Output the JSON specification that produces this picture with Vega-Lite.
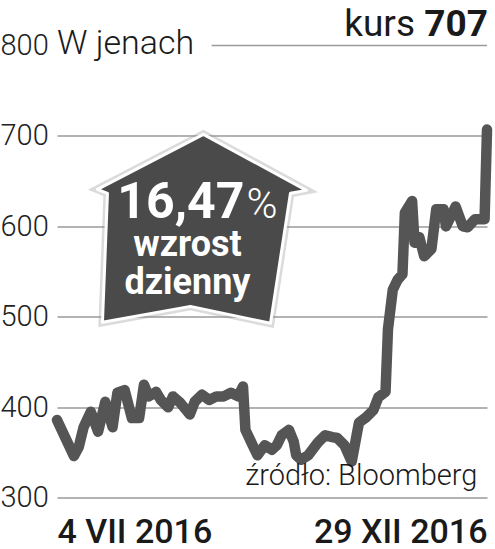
{
  "$schema": "https://vega.github.io/schema/vega-lite/v6.json",
  "width": 430,
  "height": 452.2,
  "autosize": "none",
  "padding": {"left": 57, "top": 45.5, "right": 8, "bottom": 51.3},
  "background": "white",
  "config": {"view": {"stroke": null}, "font": "Roboto"},
  "layer": [
    {
      "data": {"values": [
        {"date": "2016-07-04", "price": 386},
        {"date": "2016-07-11", "price": 346},
        {"date": "2016-07-13", "price": 356},
        {"date": "2016-07-15", "price": 378},
        {"date": "2016-07-18", "price": 395},
        {"date": "2016-07-21", "price": 373},
        {"date": "2016-07-24", "price": 406},
        {"date": "2016-07-27", "price": 378},
        {"date": "2016-07-29", "price": 416},
        {"date": "2016-08-01", "price": 419},
        {"date": "2016-08-04", "price": 388},
        {"date": "2016-08-07", "price": 388},
        {"date": "2016-08-09", "price": 425},
        {"date": "2016-08-11", "price": 412},
        {"date": "2016-08-14", "price": 417},
        {"date": "2016-08-16", "price": 408},
        {"date": "2016-08-19", "price": 400},
        {"date": "2016-08-21", "price": 412},
        {"date": "2016-08-24", "price": 405},
        {"date": "2016-08-28", "price": 392},
        {"date": "2016-08-30", "price": 406},
        {"date": "2016-09-02", "price": 414},
        {"date": "2016-09-05", "price": 408},
        {"date": "2016-09-08", "price": 412},
        {"date": "2016-09-11", "price": 412},
        {"date": "2016-09-14", "price": 416},
        {"date": "2016-09-17", "price": 412},
        {"date": "2016-09-19", "price": 423},
        {"date": "2016-09-20", "price": 375},
        {"date": "2016-09-23", "price": 358},
        {"date": "2016-09-25", "price": 347},
        {"date": "2016-09-28", "price": 358},
        {"date": "2016-10-01", "price": 353},
        {"date": "2016-10-03", "price": 358},
        {"date": "2016-10-05", "price": 369},
        {"date": "2016-10-08", "price": 375},
        {"date": "2016-10-10", "price": 362},
        {"date": "2016-10-11", "price": 347},
        {"date": "2016-10-13", "price": 342},
        {"date": "2016-10-16", "price": 347},
        {"date": "2016-10-20", "price": 361},
        {"date": "2016-10-23", "price": 369},
        {"date": "2016-10-26", "price": 367},
        {"date": "2016-10-28", "price": 366},
        {"date": "2016-10-31", "price": 358},
        {"date": "2016-11-03", "price": 340},
        {"date": "2016-11-06", "price": 383},
        {"date": "2016-11-09", "price": 389},
        {"date": "2016-11-12", "price": 397},
        {"date": "2016-11-14", "price": 411},
        {"date": "2016-11-17", "price": 417},
        {"date": "2016-11-18", "price": 486},
        {"date": "2016-11-20", "price": 530},
        {"date": "2016-11-22", "price": 541},
        {"date": "2016-11-24", "price": 547},
        {"date": "2016-11-25", "price": 615},
        {"date": "2016-11-28", "price": 628},
        {"date": "2016-11-29", "price": 582},
        {"date": "2016-12-01", "price": 588},
        {"date": "2016-12-03", "price": 567},
        {"date": "2016-12-06", "price": 575},
        {"date": "2016-12-08", "price": 619},
        {"date": "2016-12-11", "price": 619},
        {"date": "2016-12-12", "price": 600},
        {"date": "2016-12-16", "price": 622},
        {"date": "2016-12-19", "price": 600},
        {"date": "2016-12-21", "price": 599},
        {"date": "2016-12-24", "price": 608},
        {"date": "2016-12-28", "price": 608},
        {"date": "2016-12-29", "price": 707}
      ]},
      "mark": {"type": "line", "color": "#555555", "strokeWidth": 10.5, "strokeCap": "round", "strokeJoin": "round"},
      "encoding": {
        "x": {
          "field": "date", "type": "temporal",
          "scale": {"type": "utc", "domain": [{"year": 2016, "month": 7, "date": 4, "utc": true}, {"year": 2016, "month": 12, "date": 29, "utc": true}]},
          "axis": {
            "title": null, "domain": false, "ticks": false, "tickSize": 0, "grid": false,
            "values": [{"year": 2016, "month": 7, "date": 4, "utc": true}, {"year": 2016, "month": 12, "date": 29, "utc": true}],
            "labelExpr": "utcmonth(datum.value) == 6 ? '4 VII 2016' : '29 XII 2016'",
            "labelFlush": true, "labelOverlap": false,
            "labelBaseline": "alphabetic", "labelPadding": 45,
            "labelFontSize": 34, "labelFontWeight": 500, "labelColor": "#1a1a1a", "labelFont": "Roboto"
          }
        },
        "y": {
          "field": "price", "type": "quantitative",
          "scale": {"domain": [300, 800], "nice": false, "zero": false},
          "axis": {
            "title": null, "domain": false, "ticks": false, "tickSize": 0,
            "values": [300, 400, 500, 600, 700, 800],
            "grid": true, "gridColor": "#9a9a9a", "gridWidth": 1.5,
            "gridOpacity": {"condition": {"test": "datum.value == 800", "value": 0}, "value": 1},
            "labelAlign": "left", "labelPadding": 57, "labelBaseline": "middle",
            "labelFontSize": 29, "labelFontWeight": 300, "labelColor": "#222222", "labelFont": "Roboto"
          }
        }
      }
    },
    {
      "data": {"values": [{"start": "2016-09-06", "end": "2016-12-29", "value": 800}]},
      "mark": {"type": "rule", "color": "#9a9a9a", "strokeWidth": 1.5},
      "encoding": {
        "x": {"field": "start", "type": "temporal"},
        "x2": {"field": "end"},
        "y": {"field": "value", "type": "quantitative"}
      }
    },
    {
      "data": {"values": [{"date": "2016-09-02", "value": 597.3}]},
      "mark": {"type": "point", "shape": "M0.014,-0.904 L1,-0.368 L0.847,-0.34 L0.656,0.904 L-0.11,0.742 L-0.952,0.895 L-0.904,-0.34 L-1,-0.378 Z", "size": 43681, "filled": true, "fill": "#4a4a4a", "fillOpacity": 0.25, "stroke": "#999999", "strokeOpacity": 0.35, "strokeWidth": 8, "opacity": 1},
      "encoding": {
        "x": {"field": "date", "type": "temporal"},
        "y": {"field": "value", "type": "quantitative"}
      }
    },
    {
      "data": {"values": [{"date": "2016-09-02", "value": 597.3}]},
      "mark": {"type": "point", "shape": "M0.014,-0.904 L1,-0.368 L0.847,-0.34 L0.656,0.904 L-0.11,0.742 L-0.952,0.895 L-0.904,-0.34 L-1,-0.378 Z", "size": 43681, "filled": true, "fill": "#4a4a4a", "fillOpacity": 1, "stroke": "white", "strokeWidth": 3, "opacity": 1, "strokeJoin": "round"},
      "encoding": {
        "x": {"field": "date", "type": "temporal"},
        "y": {"field": "value", "type": "quantitative"}
      }
    },
    {
      "data": {"values": [{"date": "2016-09-20", "value": 609, "label": "16,47"}]},
      "mark": {"type": "text", "align": "right", "baseline": "alphabetic", "dx": -1, "fontSize": 50, "fontWeight": 700, "color": "white", "font": "Roboto"},
      "encoding": {
        "x": {"field": "date", "type": "temporal"},
        "y": {"field": "value", "type": "quantitative"},
        "text": {"field": "label"}
      }
    },
    {
      "data": {"values": [{"date": "2016-09-20", "value": 609, "label": "%"}]},
      "mark": {"type": "text", "align": "left", "baseline": "alphabetic", "dx": 1, "fontSize": 42, "fontWeight": 300, "color": "white", "font": "Roboto"},
      "encoding": {
        "x": {"field": "date", "type": "temporal"},
        "y": {"field": "value", "type": "quantitative"},
        "text": {"field": "label"}
      }
    },
    {
      "data": {"values": [
        {"date": "2016-08-27", "value": 566.9, "label": "wzrost"},
        {"date": "2016-08-27", "value": 524.7, "label": "dzienny"}
      ]},
      "mark": {"type": "text", "align": "center", "baseline": "alphabetic", "fontSize": 36, "fontWeight": 700, "color": "white", "font": "Roboto"},
      "encoding": {
        "x": {"field": "date", "type": "temporal"},
        "y": {"field": "value", "type": "quantitative"},
        "text": {"field": "label"}
      }
    },
    {
      "data": {"values": [{"date": "2016-07-04", "value": 790.8, "label": "W jenach"}]},
      "mark": {"type": "text", "align": "left", "baseline": "alphabetic", "fontSize": 34, "fontWeight": 300, "color": "#1a1a1a", "font": "Roboto"},
      "encoding": {
        "x": {"field": "date", "type": "temporal"},
        "y": {"field": "value", "type": "quantitative"},
        "text": {"field": "label"}
      }
    },
    {
      "data": {"values": [{"date": "2016-12-29", "value": 810.8, "label": "707"}]},
      "mark": {"type": "text", "align": "right", "baseline": "alphabetic", "dx": 1, "fontSize": 37, "fontWeight": 700, "color": "#1a1a1a", "font": "Roboto"},
      "encoding": {
        "x": {"field": "date", "type": "temporal"},
        "y": {"field": "value", "type": "quantitative"},
        "text": {"field": "label"}
      }
    },
    {
      "data": {"values": [{"date": "2016-12-29", "value": 810.8, "label": "kurs"}]},
      "mark": {"type": "text", "align": "right", "baseline": "alphabetic", "dx": -72, "fontSize": 37, "fontWeight": 400, "color": "#1a1a1a", "font": "Roboto"},
      "encoding": {
        "x": {"field": "date", "type": "temporal"},
        "y": {"field": "value", "type": "quantitative"},
        "text": {"field": "label"}
      }
    },
    {
      "data": {"values": [{"date": "2016-12-25", "value": 314, "label": "źródło: Bloomberg"}]},
      "mark": {"type": "text", "align": "right", "baseline": "alphabetic", "fontSize": 29, "fontWeight": 300, "color": "#1a1a1a", "font": "Roboto"},
      "encoding": {
        "x": {"field": "date", "type": "temporal"},
        "y": {"field": "value", "type": "quantitative"},
        "text": {"field": "label"}
      }
    }
  ]
}
